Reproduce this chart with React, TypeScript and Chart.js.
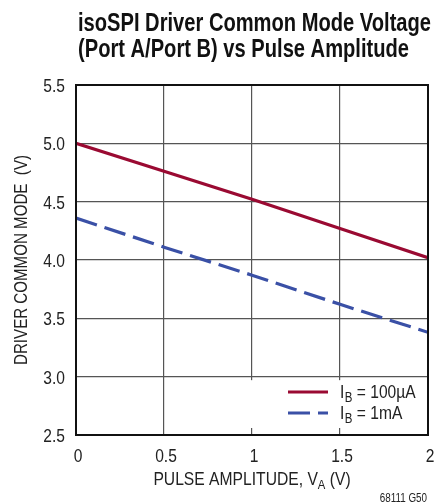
import React, { useEffect, useRef } from "react";
import { Chart, registerables } from "chart.js";

Chart.register(...registerables);

const xValues = [0, 0.5, 1, 1.5, 2];
const series100uA = [5.0, 4.76, 4.52, 4.27, 4.02];
const series1mA = [4.36, 4.11, 3.87, 3.62, 3.38];
const titleLines = ["isoSPI Driver Common Mode Voltage", "(Port A/Port B) vs Pulse Amplitude"];
const yTitle = "DRIVER COMMON MODE  (V)";
const xTitleParts = ["PULSE AMPLITUDE, V", "A", " (V)"];
const legendLabels = [" = 100µA", " = 1mA"];
const footnote = "68111 G50";

const RED = "#9a0a32";
const BLUE = "#3a50a6";
const FONT = "'Liberation Sans', Arial, sans-serif";
const SX = 0.82;

function narrow(ctx: CanvasRenderingContext2D, text: string, x: number, y: number, size: number, bold = false, align: "left" | "center" | "right" = "left", sx = SX) {
  ctx.save();
  ctx.font = `${bold ? "bold " : ""}${size}px ${FONT}`;
  const w = ctx.measureText(text).width * sx;
  let left = x;
  if (align === "center") left = x - w / 2;
  if (align === "right") left = x - w;
  ctx.translate(left, y);
  ctx.scale(sx, 1);
  ctx.textAlign = "left";
  ctx.textBaseline = "alphabetic";
  ctx.fillText(text, 0, 0);
  ctx.restore();
  return w;
}

function width(ctx: CanvasRenderingContext2D, text: string, size: number, bold = false, sx = SX) {
  ctx.save();
  ctx.font = `${bold ? "bold " : ""}${size}px ${FONT}`;
  const w = ctx.measureText(text).width * sx;
  ctx.restore();
  return w;
}

export default function App() {
  const ref = useRef<HTMLCanvasElement | null>(null);
  useEffect(() => {
    const canvas = ref.current!;
    const overlay = {
      id: "overlay",
      beforeDatasetsDraw(chart: any) {
        const { ctx, chartArea } = chart;
        const xs = chart.scales.x;
        const ys = chart.scales.y;
        const lx = xs.getPixelForValue(0.78);
        const ty = ys.getPixelForValue(2.97);
        ctx.save();
        ctx.fillStyle = "#fff";
        ctx.fillRect(lx, ty, chartArea.right - lx - 1, ys.getPixelForValue(2.56) - ty);
        ctx.restore();
      },
      afterDraw(chart: any) {
        const { ctx, chartArea } = chart;
        const xs = chart.scales.x;
        const ys = chart.scales.y;
        ctx.save();
        // title
        ctx.fillStyle = "#111";
        const tsx = 331 / width(ctx, titleLines[1], 26.5, true, 1);
        narrow(ctx, titleLines[0], 78, 31, 26.5, true, "left", tsx);
        narrow(ctx, titleLines[1], 78, 57, 26.5, true, "left", tsx);
        // border
        ctx.strokeStyle = "#111";
        ctx.lineWidth = 2;
        ctx.strokeRect(chartArea.left, chartArea.top, chartArea.right - chartArea.left, chartArea.bottom - chartArea.top);
        // tick labels
        ctx.fillStyle = "#222";
        xs.ticks.forEach((t: any) => {
          narrow(ctx, String(t.value), xs.getPixelForValue(t.value) + 2, 462, 19, false, "center");
        });
        ys.ticks.forEach((t: any) => {
          narrow(ctx, Number(t.value).toFixed(1), 65, ys.getPixelForValue(t.value) + 7, 19, false, "right");
        });
        // y title
        ctx.save();
        ctx.translate(27, (chartArea.top + chartArea.bottom) / 2);
        ctx.rotate(-Math.PI / 2);
        narrow(ctx, yTitle, 0, 0, 18, false, "center", 0.84);
        ctx.restore();
        // x title with subscript
        const xsx = 0.87;
        const w1 = width(ctx, xTitleParts[0], 18, false, xsx);
        const w2 = width(ctx, xTitleParts[1], 13, false, xsx);
        const w3 = width(ctx, xTitleParts[2], 18, false, xsx);
        const cx = (chartArea.left + chartArea.right) / 2;
        let x = cx - (w1 + w2 + w3) / 2;
        const by = 485;
        x += narrow(ctx, xTitleParts[0], x, by, 18, false, "left", xsx);
        x += narrow(ctx, xTitleParts[1], x, by + 4, 13, false, "left", xsx);
        narrow(ctx, xTitleParts[2], x, by, 18, false, "left", xsx);
        // legend
        const colors = [RED, BLUE];
        const dashes = [[], [22, 8]];
        const rows = [392, 413];
        for (let i = 0; i < 2; i++) {
          ctx.strokeStyle = colors[i];
          ctx.lineWidth = 3;
          ctx.setLineDash(dashes[i]);
          ctx.beginPath();
          ctx.moveTo(288, rows[i]);
          ctx.lineTo(328, rows[i]);
          ctx.stroke();
          ctx.setLineDash([]);
          ctx.fillStyle = "#222";
          let tx = 340;
          tx += narrow(ctx, "I", tx, rows[i] + 6, 19) + 0.5;
          tx += narrow(ctx, "B", tx, rows[i] + 10, 14);
          narrow(ctx, legendLabels[i], tx, rows[i] + 6, 19);
        }
        // footnote
        narrow(ctx, footnote, 427, 502, 12, false, "right");
        ctx.restore();
      },
    };
    const chart = new Chart(canvas, {
      type: "line",
      data: {
        datasets: [
          {
            label: "IB = 100µA",
            data: xValues.map((x, i) => ({ x, y: series100uA[i] })),
            borderColor: RED,
            borderWidth: 3.2,
            pointRadius: 0,
          },
          {
            label: "IB = 1mA",
            data: xValues.map((x, i) => ({ x, y: series1mA[i] })),
            borderColor: BLUE,
            borderWidth: 3.2,
            borderDash: [22, 8],
            pointRadius: 0,
          },
        ],
      },
      options: {
        animation: false,
        responsive: false,
        layout: { padding: { left: 0, right: 9, top: 85, bottom: 0 } },
        plugins: { legend: { display: false }, tooltip: { enabled: false }, title: { display: false } },
        scales: {
          x: {
            type: "linear",
            min: 0,
            max: 2,
            afterFit: (s: any) => { s.height = 69; },
            ticks: { stepSize: 0.5, display: false },
            grid: { color: "#555", lineWidth: 1.2, drawTicks: false },
            border: { display: false },
          },
          y: {
            min: 2.5,
            max: 5.5,
            afterFit: (s: any) => { s.width = 76; },
            ticks: { stepSize: 0.5, display: false },
            grid: { color: "#555", lineWidth: 1.2, drawTicks: false },
            border: { display: false },
          },
        },
      },
      plugins: [overlay],
    });
    return () => chart.destroy();
  }, []);
  return (
    <div style={{ position: "absolute", left: 0, top: 0, width: 437, height: 504, background: "#fff" }}>
      <canvas ref={ref} width={437} height={504} style={{ width: 437, height: 504 }} />
    </div>
  );
}
